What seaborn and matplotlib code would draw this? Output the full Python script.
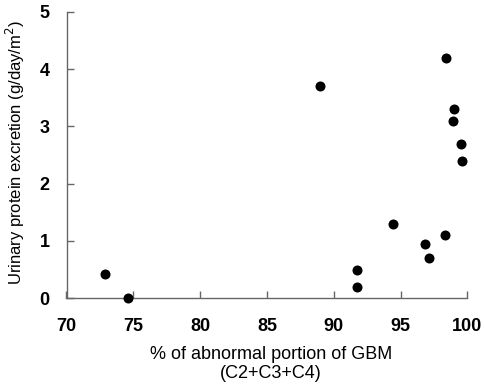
import matplotlib
matplotlib.use("Agg")
import matplotlib.pyplot as plt
import seaborn as sns
import pandas as pd

# data
abnormal_gbm = [72.9, 74.6, 89.0, 91.7, 91.7, 94.4, 96.8, 97.1, 98.3, 98.4, 98.9, 99.0, 99.5, 99.6]
protein = [0.42, 0.0, 3.70, 0.50, 0.20, 1.30, 0.95, 0.70, 1.10, 4.20, 3.10, 3.30, 2.70, 2.40]
x_ticks = [70, 75, 80, 85, 90, 95, 100]
y_ticks = [0, 1, 2, 3, 4, 5]

df = pd.DataFrame({"x": abnormal_gbm, "y": protein})

sns.set_style("white")
plt.rcParams['font.family'] = ['Liberation Sans', 'DejaVu Sans']
plt.rcParams['text.color'] = 'black'
plt.rcParams['axes.labelcolor'] = 'black'
plt.rcParams['xtick.color'] = 'black'
plt.rcParams['ytick.color'] = 'black'

fig = plt.figure(figsize=(4.85, 3.86), dpi=100)
ax = fig.add_axes([66.5 / 485, (386 - 298.3) / 386, (467.5 - 66.5) / 485, (298.3 - 11.7) / 386])

sns.scatterplot(data=df, x="x", y="y", ax=ax, color="black", s=52, edgecolor="black",
                linewidth=0, marker="o", clip_on=False, zorder=3)

ax.set_xlim(70, 100)
ax.set_ylim(0, 5)
ax.set_xticks(x_ticks)
ax.set_yticks(y_ticks)
ax.set_xticklabels([str(t) for t in x_ticks], fontsize=13, fontweight="bold", color="black")
ax.set_yticklabels([str(t) for t in y_ticks], fontsize=13, fontweight="bold", color="black")
ax.tick_params(axis="both", direction="in", length=5, width=1, color="#666666",
               bottom=True, left=True)
ax.tick_params(axis="x", pad=14)
ax.tick_params(axis="y", pad=12)

for side in ["top", "right"]:
    ax.spines[side].set_visible(False)
for side in ["left", "bottom"]:
    ax.spines[side].set_color("#666666")
    ax.spines[side].set_linewidth(1)

ax.set_xlabel("% of abnormal portion of GBM\n(C2+C3+C4)", fontsize=13, linespacing=1.15,
              color="black")
ax.xaxis.set_label_coords(0.51, -0.168)
ax.set_ylabel("Urinary protein excretion (g/day/m$^2$)", fontsize=12, color="black")
ax.yaxis.set_label_coords(-0.0985, 0.509)

fig.savefig("out.png", dpi=100, facecolor="white")
